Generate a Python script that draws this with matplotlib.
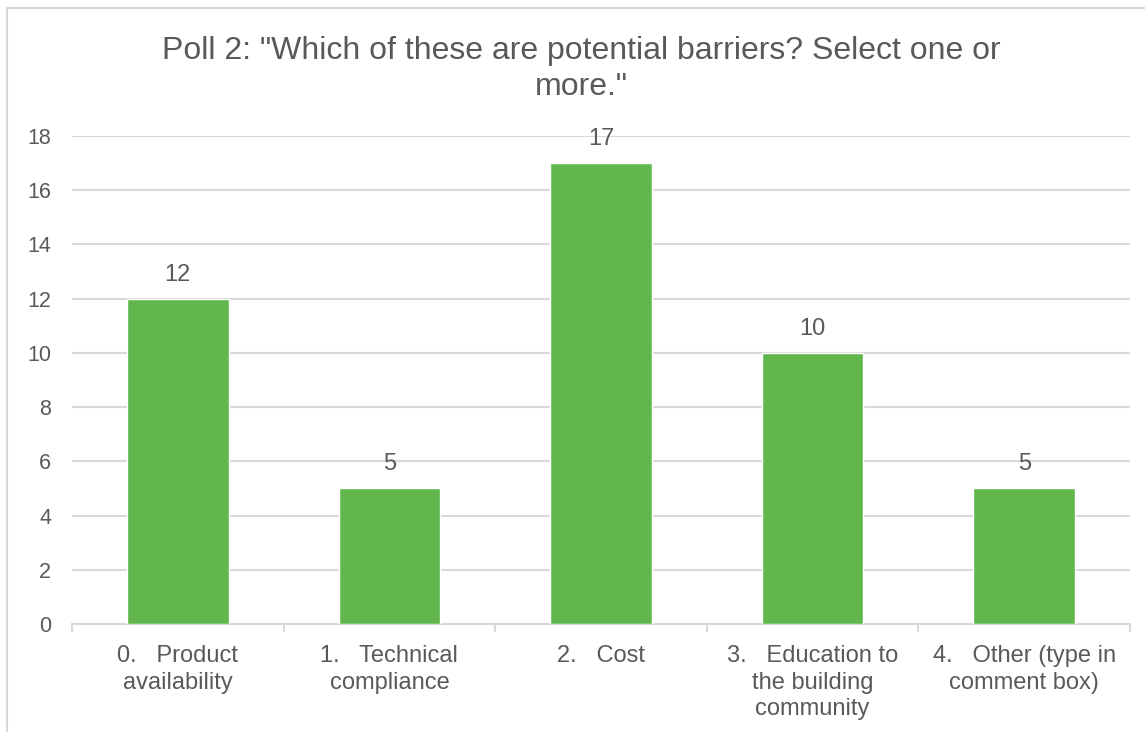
import matplotlib.pyplot as plt
from matplotlib.patches import Rectangle

plt.rcParams['font.family'] = ['Liberation Sans', 'DejaVu Sans']

categories = [
    "0.   Product\navailability",
    "1.   Technical\ncompliance",
    "2.   Cost",
    "3.   Education to\nthe building\ncommunity",
    "4.   Other (type in\ncomment box)",
]
votes = [12, 5, 17, 10, 5]
yticks = [0, 2, 4, 6, 8, 10, 12, 14, 16, 18]

text_color = '#595959'
line_color = '#d9d9d9'
bar_color = '#62b74c'

fig = plt.figure(figsize=(11.45, 7.32), dpi=100)
ax = fig.add_axes([72 / 1145, 1 - 624 / 732, (1130 - 72) / 1145, (624 - 136) / 732])

x = list(range(len(categories)))
bars = ax.bar(x, votes, width=0.48, color=bar_color, edgecolor='white', linewidth=1, zorder=3)

# value labels above each bar
for xi, v in zip(x, votes):
    ax.annotate(str(v), (xi, v), xytext=(0, 13), textcoords='offset points',
                ha='center', va='baseline', fontsize=17, color=text_color)

ax.set_xlim(-0.5, len(categories) - 0.5)
ax.set_ylim(0, 18)
ax.set_yticks(yticks)
ax.yaxis.grid(True, color=line_color, linewidth=1.5, zorder=0)
ax.tick_params(axis='y', length=0, pad=15, labelsize=15.5, labelcolor=text_color)

# category labels centred, tick marks on the category boundaries
ax.set_xticks(x)
ax.set_xticklabels(categories, fontsize=17, color=text_color, linespacing=1.28, va='top')
ax.set_xticks([i - 0.5 for i in range(len(categories) + 1)], minor=True)
ax.tick_params(axis='x', which='major', length=0, pad=15)
ax.tick_params(axis='x', which='minor', length=6, width=1.5, color=line_color, direction='out')

for side in ('left', 'right', 'top'):
    ax.spines[side].set_visible(False)
ax.spines['bottom'].set_color(line_color)
ax.spines['bottom'].set_linewidth(1.5)
ax.set_axisbelow(True)

fig.text(581 / 1145, 1 - 36 / 732,
         'Poll 2: "Which of these are potential barriers? Select one or\nmore."',
         ha='center', va='top', fontsize=23, color=text_color, linespacing=1.25)

# chart frame (only its top and left edges fall inside the image)
fig.patches.append(Rectangle((7 / 1145, -0.05), 1.2, 1 - 8 / 732 + 0.05,
                             transform=fig.transFigure, fill=False,
                             edgecolor=line_color, linewidth=1.5))

fig.savefig('out.png', dpi=100)
